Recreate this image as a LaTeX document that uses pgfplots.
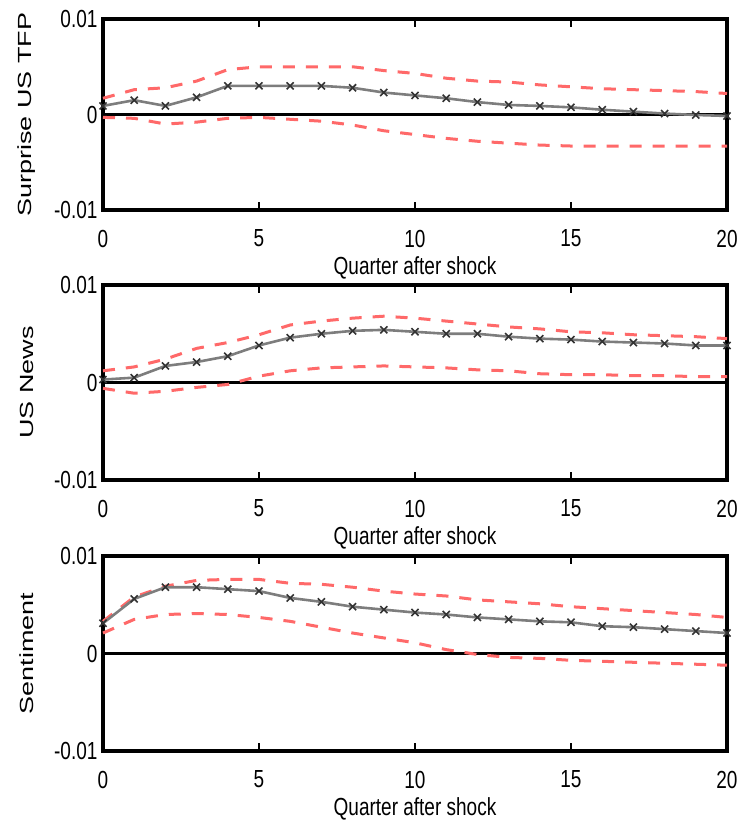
\documentclass[border=0pt]{standalone}
\usepackage{pgfplots}
\pgfplotsset{compat=1.18}
\usepackage{fontspec}
\setmainfont{Liberation Sans}
\definecolor{bandred}{RGB}{255,105,105}
\definecolor{linegray}{RGB}{125,125,125}
\pgfplotsset{
  irf/.style={
    scale only axis, width=624pt,
    xmin=0, xmax=20, ymin=-0.01, ymax=0.01,
    clip=false,
    scaled y ticks=false,
    axis line style={line width=3.5pt, black},
    xtick={0,5,10,15,20},
    ytick={-0.01,0,0.01},
    yticklabels={-0.01,0,0.01},
    tick align=inside,
    major tick length=8pt,
    xtick style={line width=2pt, black},
    ytick style={draw=none},
    /pgf/number format/assume math mode=true,
    tick label style={font=\fontsize{19}{22}\selectfont, yscale=1.3},
    xticklabel style={anchor=center, yshift=-22pt},
    yticklabel style={anchor=east, xshift=-2pt},
    every axis x label/.style={at={(axis description cs:0.5,0)}, anchor=center, yshift=-58pt, font=\fontsize{19}{22}\selectfont, yscale=1.3},
    every axis y label/.style={at={(axis description cs:0,0.5)}, xshift=-76pt, anchor=center, rotate=90, xscale=1.42, font=\fontsize{19}{22}\selectfont},
    xlabel={Quarter after shock},
  },
  band/.style={bandred, line width=3pt, dash pattern=on 12pt off 11pt},
  resp/.style={linegray, line width=2.6pt, mark=x, mark size=5pt, mark options={black!80, line width=1.6pt, solid}},
  zeroline/.style={black, line width=3.5pt},
}
\begin{document}
\begin{tikzpicture}
\useasboundingbox (0pt,0pt) rectangle (745pt,-823pt);
% Panel 1
\begin{axis}[irf, height=191pt, at={(103pt,-210pt)}, anchor=south west, ylabel={Surprise US TFP}]
\addplot[zeroline] coordinates {(0,0) (20,0)};
\addplot[band] coordinates {(0,0.0017) (1,0.0026) (2,0.0028) (3,0.0035) (4,0.0047) (5,0.0050) (6,0.0050) (7,0.0050) (8,0.0050) (9,0.0046) (10,0.0043) (11,0.0038) (12,0.0035) (13,0.0034) (14,0.0031) (15,0.0029) (16,0.0027) (17,0.0026) (18,0.0025) (19,0.0024) (20,0.0022)};
\addplot[band] coordinates {(0,-0.0003) (1,-0.0004) (2,-0.0010) (3,-0.0008) (4,-0.0004) (5,-0.0003) (6,-0.0005) (7,-0.0007) (8,-0.0011) (9,-0.0017) (10,-0.0021) (11,-0.0025) (12,-0.0028) (13,-0.0030) (14,-0.0032) (15,-0.0033) (16,-0.0033) (17,-0.0033) (18,-0.0033) (19,-0.0033) (20,-0.0033)};
\addplot[resp] coordinates {(0,0.0009) (1,0.0015) (2,0.0009) (3,0.0018) (4,0.0030) (5,0.0030) (6,0.0030) (7,0.0030) (8,0.0028) (9,0.0023) (10,0.0020) (11,0.0017) (12,0.0013) (13,0.0010) (14,0.0009) (15,0.00075) (16,0.0005) (17,0.0003) (18,0.0001) (19,-0.00005) (20,-0.00015)};
\end{axis}
% Panel 2
\begin{axis}[irf, height=195pt, at={(103pt,-480pt)}, anchor=south west, ylabel={US News}]
\addplot[zeroline] coordinates {(0,0) (20,0)};
\addplot[band] coordinates {(0,0.0012) (1,0.0016) (2,0.0024) (3,0.0035) (4,0.0041) (5,0.0049) (6,0.0059) (7,0.0063) (8,0.0066) (9,0.0068) (10,0.0066) (11,0.0063) (12,0.0060) (13,0.0057) (14,0.0055) (15,0.0052) (16,0.0051) (17,0.0049) (18,0.0048) (19,0.0047) (20,0.0045)};
\addplot[band] coordinates {(0,-0.0006) (1,-0.0011) (2,-0.0009) (3,-0.0005) (4,-0.0002) (5,0.00065) (6,0.0012) (7,0.0015) (8,0.0016) (9,0.0017) (10,0.0016) (11,0.0015) (12,0.0013) (13,0.0012) (14,0.0009) (15,0.0008) (16,0.0008) (17,0.0007) (18,0.0007) (19,0.0006) (20,0.0006)};
\addplot[resp] coordinates {(0,0.0003) (1,0.0005) (2,0.0017) (3,0.0021) (4,0.0027) (5,0.0038) (6,0.0046) (7,0.0050) (8,0.0053) (9,0.0054) (10,0.0052) (11,0.0050) (12,0.0050) (13,0.0047) (14,0.0045) (15,0.0044) (16,0.0042) (17,0.0041) (18,0.0040) (19,0.0038) (20,0.0038)};
\end{axis}
% Panel 3
\begin{axis}[irf, height=195pt, at={(103pt,-751pt)}, anchor=south west, ylabel={Sentiment}]
\addplot[zeroline] coordinates {(0,0) (20,0)};
\addplot[band] coordinates {(0,0.0033) (1,0.0058) (2,0.0069) (3,0.0075) (4,0.0076) (5,0.0076) (6,0.0072) (7,0.0071) (8,0.0068) (9,0.0064) (10,0.0061) (11,0.0059) (12,0.0055) (13,0.0053) (14,0.0051) (15,0.0048) (16,0.0046) (17,0.0044) (18,0.0042) (19,0.0040) (20,0.0037)};
\addplot[band] coordinates {(0,0.0021) (1,0.0035) (2,0.0040) (3,0.0041) (4,0.0040) (5,0.0037) (6,0.0033) (7,0.0027) (8,0.0021) (9,0.0016) (10,0.0011) (11,0.0004) (12,-0.0001) (13,-0.0004) (14,-0.0005) (15,-0.0007) (16,-0.0008) (17,-0.0009) (18,-0.0010) (19,-0.0011) (20,-0.0012)};
\addplot[resp] coordinates {(0,0.0031) (1,0.0056) (2,0.0068) (3,0.0068) (4,0.0066) (5,0.0064) (6,0.0057) (7,0.0053) (8,0.0048) (9,0.0045) (10,0.0042) (11,0.0040) (12,0.0037) (13,0.0035) (14,0.0033) (15,0.0032) (16,0.0028) (17,0.0027) (18,0.0025) (19,0.0023) (20,0.0021)};
\end{axis}
\end{tikzpicture}
\end{document}
